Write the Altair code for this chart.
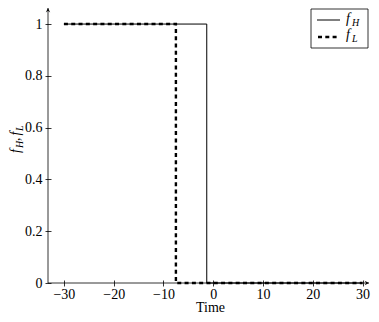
import altair as alt
import pandas as pd

# ---- data ----
time_H = [-30, -1.3, -1.3, 30]
f_H = [1, 1, 0, 0]
time_L = [-30, -7.5, -7.5, 30]
f_L = [1, 1, 0, 0]
x_ticks = [-30, -20, -10, 0, 10, 20, 30]
y_ticks = [0, 0.2, 0.4, 0.6, 0.8, 1]
x_domain = [-33.2, 31.3]
y_domain = [0, 1.062]
legend_main = ["f", "f"]
legend_sub = ["H", "L"]
x_title = "Time"

FONT = "'Liberation Serif', 'Times New Roman', serif"
W, H = 321, 275

df = pd.DataFrame({
    "time": time_H + time_L,
    "value": f_H + f_L,
    "series": ["fH"] * len(time_H) + ["fL"] * len(time_L),
    "order": list(range(len(time_H))) + list(range(len(time_L))),
})

xs = alt.Scale(domain=x_domain, nice=False, zero=False)
ys = alt.Scale(domain=y_domain, nice=False, zero=False)

xaxis = alt.Axis(values=x_ticks, domain=False, grid=False, tickSize=6, offset=-3,
                 tickColor="black", tickWidth=0.8, labelFont=FONT, labelFontSize=14,
                 labelColor="black", labelPadding=1, labelFlush=False, labelOverlap=False)
yaxis = alt.Axis(values=y_ticks, labelExpr="format(datum.value, '~g')", domain=False,
                 grid=False, tickSize=6, offset=-3, tickColor="black", tickWidth=0.8,
                 labelFont=FONT, labelFontSize=14, labelColor="black", labelPadding=3,
                 labelFlush=False, labelOverlap=False)

X = alt.X("time:Q", scale=xs, axis=xaxis, title=None)
Y = alt.Y("value:Q", scale=ys, axis=yaxis, title=None)

base = alt.Chart(df).encode(x=X, y=Y, order="order:Q")
lineH = base.transform_filter("datum.series == 'fH'").mark_line(
    color="black", strokeWidth=1)
lineL = base.transform_filter("datum.series == 'fL'").mark_line(
    color="black", strokeWidth=2.4, strokeDash=[4, 3.3], strokeCap="butt")

# axis lines with arrow heads
xline = alt.Chart(pd.DataFrame({"time": [x_domain[0]], "time2": [x_domain[1]], "value": [0]})).mark_rule(
    color="black", strokeWidth=0.8).encode(x=X, x2="time2:Q", y=Y)
yline = alt.Chart(pd.DataFrame({"time": [x_domain[0]], "value": [0], "value2": [y_domain[1]]})).mark_rule(
    color="black", strokeWidth=0.8).encode(x=X, y=Y, y2="value2:Q")
xarrow = alt.Chart(pd.DataFrame({"time": [x_domain[1]], "value": [0]})).mark_point(
    shape="M0,0 L-1.1,-0.55 L-0.7,0 L-1.1,0.55 Z", filled=True, size=64, color="black",
    opacity=1, strokeWidth=0).encode(x=X, y=Y)
yarrow = alt.Chart(pd.DataFrame({"time": [x_domain[0]], "value": [y_domain[1]]})).mark_point(
    shape="M0,0 L-0.55,1.1 L0,0.7 L0.55,1.1 Z", filled=True, size=64, color="black",
    opacity=1, strokeWidth=0).encode(x=X, y=Y)

one = pd.DataFrame({"a": [0]})

# x-axis title
xtitle = alt.Chart(one).mark_text(text=x_title, font=FONT, fontSize=14, align="center",
                                  baseline="alphabetic", color="black").encode(
    x=alt.value(W / 2 + 2), y=alt.value(H + 29))

# y-axis title  f_H, f_L  (rotated)
def ytext(t, px, py, size, style="italic"):
    return alt.Chart(one).mark_text(text=t, font=FONT, fontSize=size, fontStyle=style,
                                    angle=270, align="left", baseline="alphabetic",
                                    color="black").encode(x=alt.value(px), y=alt.value(py))

ytitle = [
    ytext(legend_main[0], -28, 145, 14),
    ytext(legend_sub[0], -25.5, 140, 10),
    ytext(",", -28, 133, 14, "normal"),
    ytext(legend_main[1], -28, 127.5, 14),
    ytext(legend_sub[1], -25.5, 123, 10),
]

# legend box
lbox = alt.Chart(one).mark_rect(fill="white", stroke="black", strokeWidth=0.8).encode(
    x=alt.value(263), x2=alt.value(320), y=alt.value(1), y2=alt.value(40))
lsolid = alt.Chart(one).mark_rule(color="black", strokeWidth=1).encode(
    x=alt.value(269), x2=alt.value(292), y=alt.value(12))
ldash = alt.Chart(one).mark_rule(color="black", strokeWidth=2.4, strokeDash=[4, 3.3],
                                 strokeCap="butt").encode(
    x=alt.value(270), x2=alt.value(290), y=alt.value(29))

def ltext(t, px, py, size):
    return alt.Chart(one).mark_text(text=t, font=FONT, fontSize=size, fontStyle="italic",
                                    align="left", baseline="alphabetic",
                                    color="black").encode(x=alt.value(px), y=alt.value(py))

ltexts = [
    ltext(legend_main[0], 298, 15, 14),
    ltext(legend_sub[0], 304, 17.5, 10),
    ltext(legend_main[1], 298, 31, 14),
    ltext(legend_sub[1], 304, 33.5, 10),
]

chart = alt.layer(
    lineH, lineL, xline, yline, xarrow, yarrow, xtitle, *ytitle, lbox, lsolid, ldash, *ltexts
).properties(
    width=W, height=H,
    autosize=alt.AutoSizeParams(type="none"),
    padding={"left": 40, "top": 0, "right": 2, "bottom": 31},
).configure(
    background="white", font=FONT
).configure_axis(
    labelFont=FONT, titleFont=FONT
).configure_text(font=FONT).configure_view(stroke=None)

chart.save("out.html", embed_options={"renderer": "svg", "actions": False})
